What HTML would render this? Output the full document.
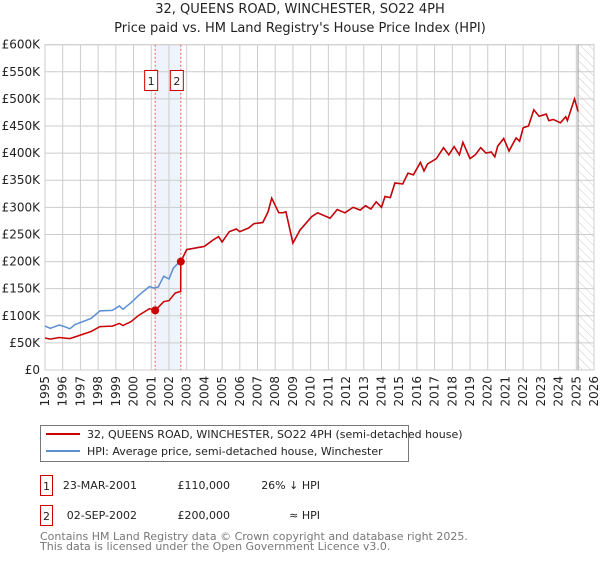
<!DOCTYPE html>
<html><head><meta charset="utf-8"><style>
body{margin:0;background:#fff;font-family:"DejaVu Sans","Liberation Sans",sans-serif;}
svg text{font-family:"DejaVu Sans","Liberation Sans",sans-serif;}
</style></head><body>
<svg id="c" width="600" height="560" xmlns="http://www.w3.org/2000/svg">
<defs><pattern id="hatch" width="6" height="6" patternUnits="userSpaceOnUse" patternTransform="rotate(-45)"><line x1="0" y1="0" x2="0" y2="6" stroke="#ccc" stroke-width="1"/></pattern></defs>
<text x="300" y="13" text-anchor="middle" font-size="13" fill="#222">32, QUEENS ROAD, WINCHESTER, SO22 4PH</text>
<text x="300" y="32" text-anchor="middle" font-size="13" fill="#222">Price paid vs. HM Land Registry's House Price Index (HPI)</text>
<g id="plot"></g>
<g>
<rect x="40.5" y="425.5" width="368" height="36" fill="#fff" stroke="#777"/>
<line x1="46" y1="434" x2="80" y2="434" stroke="#cc0000" stroke-width="2"/>
<text x="87" y="438" font-size="11" fill="#222">32, QUEENS ROAD, WINCHESTER, SO22 4PH (semi-detached house)</text>
<line x1="46" y1="451" x2="80" y2="451" stroke="#5b8fd4" stroke-width="2"/>
<text x="87" y="455" font-size="11" fill="#222">HPI: Average price, semi-detached house, Winchester</text>
</g>
<g font-size="11" fill="#222">
<rect x="40.5" y="475.5" width="12" height="20" fill="none" stroke="#cc0000"/>
<text x="46.5" y="490" text-anchor="middle">1</text>
<text x="137" y="489" text-anchor="end">23-MAR-2001</text>
<text x="230" y="489" text-anchor="end">£110,000</text>
<text x="320" y="489" text-anchor="end">26% ↓ HPI</text>
<rect x="40.5" y="505.5" width="12" height="20" fill="none" stroke="#cc0000"/>
<text x="46.5" y="520" text-anchor="middle">2</text>
<text x="137" y="519" text-anchor="end">02-SEP-2002</text>
<text x="230" y="519" text-anchor="end">£200,000</text>
<text x="320" y="519" text-anchor="end">≈ HPI</text>
</g>
<text x="40" y="540" font-size="11" fill="#777">Contains HM Land Registry data © Crown copyright and database right 2025.</text>
<text x="40" y="550" font-size="11" fill="#777">This data is licensed under the Open Government Licence v3.0.</text>
</svg>
<script>
const yTicks=[0,50,100,150,200,250,300,350,400,450,500,550,600];
const yTickLabels=["£0","£50K","£100K","£150K","£200K","£250K","£300K","£350K","£400K","£450K","£500K","£550K","£600K"];
const xTicks=[1995,1996,1997,1998,1999,2000,2001,2002,2003,2004,2005,2006,2007,2008,2009,2010,2011,2012,2013,2014,2015,2016,2017,2018,2019,2020,2021,2022,2023,2024,2025,2026];
const hpiYears=[1995,1995.3,1995.8,1996.1,1996.4,1996.7,1997.6,1998.1,1998.8,1999.2,1999.4,1999.85,2000.3,2000.9,2001.15,2001.4,2001.7,2002.0,2002.25,2002.55,2002.67,2003,2003.5,2004,2004.5,2004.8,2005,2005.4,2005.8,2006,2006.5,2006.8,2007.3,2007.6,2007.8,2008.2,2008.44,2008.6,2009.0,2009.4,2010.06,2010.4,2011.1,2011.5,2011.94,2012.4,2012.8,2013.1,2013.4,2013.7,2014.0,2014.2,2014.5,2014.76,2015.2,2015.5,2015.8,2016.2,2016.4,2016.6,2017.1,2017.5,2017.8,2018.1,2018.4,2018.6,2019.0,2019.3,2019.6,2019.9,2020.2,2020.4,2020.56,2020.9,2021.2,2021.6,2021.8,2022.0,2022.3,2022.6,2022.9,2023.3,2023.45,2023.7,2024.1,2024.4,2024.5,2024.9,2025.1];
const hpiValues=[81,77,83,80,76,84,95,109,110,118,112,124,138,154,151,153,173,168,188,198,200,222,225,228,240,246,236,255,260,255,262,270,272,292,317,290,290,292,234,258,283,290,280,296,290,300,295,303,297,310,300,320,318,345,343,363,360,383,367,380,390,410,397,412,397,420,390,397,410,400,402,393,413,427,404,428,422,447,450,480,468,472,460,462,456,467,460,500,477];
const redEarlyYears=[1995,1995.3,1995.8,1996.4,1996.7,1997.6,1998.1,1998.8,1999.2,1999.4,1999.85,2000.3,2000.9,2001.22,2001.7,2002.0,2002.35,2002.66,2002.67];
const redEarlyValues=[59,57,60,58,61,71,80,81,86,82,89,101,113,110,126,128,142,145,200];
const saleYears=[2001.22,2002.67];
const saleValues=[110,200];
const saleLabels=["1","2"];

const X0=45,X1=594,Y0=370,Y1=44.7;
const xs=y=>X0+(y-1995)/(2026-1995)*(X1-X0);
const ys=v=>Y0-v/600*(Y0-Y1);
const NS="http://www.w3.org/2000/svg";
const g=document.getElementById('plot');
function mk(t,a,p){const e=document.createElementNS(NS,t);for(const k in a)e.setAttribute(k,a[k]);(p||g).appendChild(e);return e;}

const shade=mk('rect',{x:xs(saleYears[0]),y:Y1,width:xs(saleYears[1])-xs(saleYears[0]),height:Y0-Y1,fill:'#eef3fc'});


const hatch=mk('rect',{x:xs(2025.1),y:Y1,width:X1-xs(2025.1),height:Y0-Y1,fill:'url(#hatch)'});



yTicks.forEach((v,i)=>{
 const l=mk('line',{x1:X0,x2:X1,y1:ys(v),y2:ys(v),stroke:'#ccc','stroke-width':1});
 
 
 const t=mk('text',{x:40,y:ys(v)+4,'text-anchor':'end','font-size':12,fill:'#222'});
 t.textContent=yTickLabels[i];
 
 
});
xTicks.forEach(yr=>{
 const l=mk('line',{x1:xs(yr),x2:xs(yr),y1:Y1,y2:Y0,stroke:'#ccc','stroke-width':1});
 
 
 const t=mk('text',{x:0,y:0,'text-anchor':'end','font-size':12,fill:'#222',transform:`translate(${xs(yr)+4},${376}) rotate(-90)`});
 t.textContent=yr;
 
 
});
const border=mk('rect',{x:X0,y:Y1,width:X1-X0,height:Y0-Y1,fill:'none',stroke:'#ccc'});


const fl=mk('line',{x1:xs(2025.1),x2:xs(2025.1),y1:Y1,y2:Y0,stroke:'#999','stroke-width':1});



saleYears.forEach((yr,i)=>{
 const l=mk('line',{x1:xs(yr),x2:xs(yr),y1:Y1,y2:Y0,stroke:'#e06060','stroke-width':1,'stroke-dasharray':'2,2'});
 
 
 const r=mk('rect',{x:xs(yr)-10.5,y:70.5,width:13,height:20,fill:'#fff',stroke:'#cc0000'});
 
 
 const t=mk('text',{x:xs(yr)-4,y:85,'text-anchor':'middle','font-size':11,fill:'#222'});
 t.textContent=saleLabels[i];
 
 
});

const hp=mk('path',{d:hpiYears.map((y,i)=>(i?'L':'M')+xs(y).toFixed(1)+','+ys(hpiValues[i]).toFixed(1)).join(''),fill:'none',stroke:'#5b8fd4','stroke-width':1.5});


const ry=[],rv=[];
redEarlyYears.forEach((y,i)=>{ry.push(y);rv.push(redEarlyValues[i]);});
hpiYears.forEach((y,i)=>{if(y>saleYears[1]){ry.push(y);rv.push(hpiValues[i]);}});
const rp=mk('path',{d:ry.map((y,i)=>(i?'L':'M')+xs(y).toFixed(1)+','+ys(rv[i]).toFixed(1)).join(''),fill:'none',stroke:'#cc0000','stroke-width':1.5});


saleYears.forEach((yr,i)=>{
 const c=mk('circle',{cx:xs(yr),cy:ys(saleValues[i]),r:4,fill:'#cc0000'});
 
 
});
</script>
</body></html>
